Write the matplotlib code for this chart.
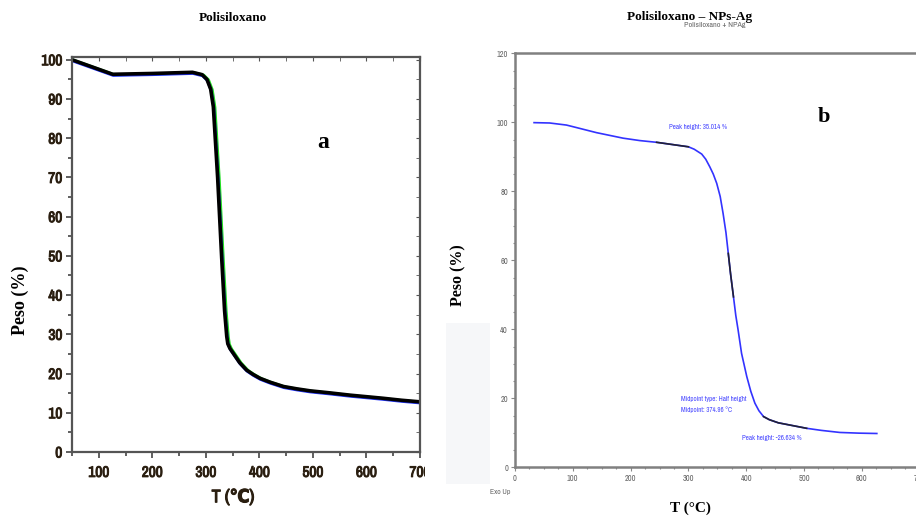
import matplotlib
matplotlib.use("Agg")
import matplotlib.pyplot as plt
import matplotlib.transforms as mtransforms
import matplotlib.patheffects as pe
from matplotlib.ticker import MultipleLocator
from matplotlib.patches import Rectangle
from matplotlib.font_manager import fontManager

# --- data ---------------------------------------------------------------
# Panel a: Polisiloxano
temp_a = [50, 126, 200, 275, 293, 302, 309, 314, 322, 329.6, 335, 339, 341,
          345, 351, 357, 363, 376, 388, 401, 420, 445, 470, 494.5, 530, 569,
          600, 631, 665, 699]
peso_a = [100, 96.3, 96.5, 96.8, 96.2, 95.0, 92.5, 88, 70, 49.4, 36, 29.5,
          27.6, 26.4, 25.2, 24.0, 22.8, 20.9, 19.8, 18.8, 17.8, 16.7, 16.1,
          15.6, 15.1, 14.5, 14.1, 13.7, 13.2, 12.8]

# Panel b: Polisiloxano + NPs-Ag
temp_b = [33, 60, 89, 101, 141, 187, 216, 245, 300, 310, 323, 330, 337, 343,
          349, 355, 360, 365, 369, 373, 378, 382, 386, 392, 401, 408, 415,
          422, 430, 440, 455.5, 480, 504.6, 530, 562, 595, 626]
peso_b = [99.9, 99.8, 99.2, 98.7, 97.0, 95.4, 94.7, 94.2, 92.9, 92.2, 90.8,
          89.3, 87.1, 85.0, 82.3, 78.5, 73.6, 68.0, 62.0, 56.0, 49.4, 44.0,
          39.8, 33.0, 26.3, 22.0, 18.6, 16.4, 14.7, 13.8, 12.9, 12.1, 11.3,
          10.7, 10.1, 9.9, 9.8]

ticks_a_x = [100, 200, 300, 400, 500, 600, 700]
ticks_a_y = [0, 10, 20, 30, 40, 50, 60, 70, 80, 90, 100]
ticks_b_x = [0, 100, 200, 300, 400, 500, 600, 700]
ticks_b_y = [0, 20, 40, 60, 80, 100, 120]

W, H = 916, 516
fig = plt.figure(figsize=(W / 100, H / 100), dpi=100)
fig.patch.set_facecolor("white")

# prefer a narrow sans face for the instrument-style labels
names = {f.name for f in fontManager.ttflist}
narrow_names = sorted(n for n in names if "Narrow" in n or "Condensed" in n)
narrow = narrow_names[0] if narrow_names else "DejaVu Sans"
serif = "Liberation Serif"
NARROW = [narrow, "DejaVu Sans"]
LABEL_A = "#2a1e10"


def heavy(color, w=0.7):
    return [pe.withStroke(linewidth=w, foreground=color)]


def px_axes(x0, y0, x1, y1):
    """Axes placed by pixel box (left, top, right, bottom)."""
    return fig.add_axes([x0 / W, 1 - y1 / H, (x1 - x0) / W, (y1 - y0) / H])


# ---------------- panel a ----------------
ax1 = px_axes(72, 57, 420, 452)
ax1.set_xlim(50, 700)
ax1.set_ylim(0, 100.7)
shift = mtransforms.ScaledTranslation(1.5 / 100, -0.5 / 100, fig.dpi_scale_trans)
ax1.plot(temp_a, peso_a, color="#22dd22", lw=2.2, transform=ax1.transData + shift)
shift2 = mtransforms.ScaledTranslation(0.5 / 100, -1.2 / 100, fig.dpi_scale_trans)
ax1.plot(temp_a, peso_a, color="#2233ff", lw=2.0, transform=ax1.transData + shift2)
ax1.plot(temp_a, peso_a, color="black", lw=2.6, solid_joinstyle="round")

ax1.set_xticks(ticks_a_x)
ax1.set_yticks(ticks_a_y)
ax1.xaxis.set_minor_locator(MultipleLocator(50))
ax1.yaxis.set_minor_locator(MultipleLocator(5))
ax1.tick_params(axis="both", which="both", direction="out", color="#444444", width=1.2)
ax1.tick_params(which="major", length=4)
ax1.tick_params(which="minor", length=3)
ax1.tick_params(axis="x", labelsize=11, pad=6, labelcolor=LABEL_A)
ax1.tick_params(axis="y", labelsize=11, pad=3, labelcolor=LABEL_A)
for lab in ax1.get_xticklabels() + ax1.get_yticklabels():
    lab.set_fontfamily(NARROW)
    lab.set_fontstretch("condensed")
    lab.set_fontweight("bold")
    lab.set_path_effects(heavy(LABEL_A))
for sp in ax1.spines.values():
    sp.set_color("#555555")
    sp.set_linewidth(1.6)

# inward ticks on top and right edges
top1 = ax1.secondary_xaxis("top")
top1.set_xticks(ticks_a_x)
top1.xaxis.set_minor_locator(MultipleLocator(50))
top1.tick_params(which="both", direction="in", length=3, color="#555555",
                 labeltop=False)
top1.spines["top"].set_visible(False)
right1 = ax1.secondary_yaxis("right")
right1.set_yticks(ticks_a_y)
right1.yaxis.set_minor_locator(MultipleLocator(5))
right1.tick_params(which="both", direction="in", length=3, color="#555555",
                   labelright=False)
right1.spines["right"].set_visible(False)

fig.canvas.draw()
clip = mtransforms.Bbox.from_extents(0, 0, 425, H)
for lab in ax1.get_xticklabels():
    lab.set_clip_box(clip)
    lab.set_clip_on(True)

ax1.text(519, 78.8, "a", fontsize=17, fontweight="bold", family=serif,
         ha="center", va="center")

fig.text(233 / W, 1 - 18 / H, "Polisiloxano", fontsize=9.5, fontweight="bold",
         family=serif, ha="center", va="center")
fig.text(20 / W, 1 - 300 / H, "Peso (%)", fontsize=13, fontweight="bold",
         family=serif, rotation=90, ha="center", va="center")
fig.text(233 / W, 1 - 497 / H, "T (\u2103)", fontsize=13, fontweight="bold",
         family=NARROW, fontstretch="condensed", ha="center", va="center",
         color=LABEL_A, path_effects=heavy(LABEL_A, 0.8))

# ---------------- panel b ----------------
fig.patches.append(Rectangle((446 / W, 1 - 484 / H), 44 / W, 161 / H,
                             transform=fig.transFigure, facecolor="#f6f7f9",
                             edgecolor="none", zorder=0))

ax2 = px_axes(515, 53.3, 919.6, 467.3)
ax2.set_xlim(0, 700)
ax2.set_ylim(0, 120)
ax2.set_facecolor("none")
ax2.plot(temp_b, peso_b, color="#3333ff", lw=1.2)
# darker overlay segments of the analysis software
for lo, hi in [(245, 305), (369, 380), (430, 505)]:
    sel = [(t, p) for t, p in zip(temp_b, peso_b) if lo <= t <= hi]
    ax2.plot([s[0] for s in sel], [s[1] for s in sel], color="#222233", lw=1.2)

ax2.set_xticks(ticks_b_x)
ax2.set_yticks(ticks_b_y)
ax2.xaxis.set_minor_locator(MultipleLocator(25))
ax2.yaxis.set_minor_locator(MultipleLocator(5))
ax2.tick_params(which="both", direction="out", color="#888888", width=0.8,
                labelsize=6, labelcolor="#666666", pad=2)
ax2.tick_params(which="major", length=3)
ax2.tick_params(which="minor", length=1.5)
for lab in ax2.get_xticklabels() + ax2.get_yticklabels():
    lab.set_fontfamily(NARROW)
    lab.set_fontstretch("condensed")
ax2.spines["right"].set_visible(False)
for k in ("left", "top", "bottom"):
    ax2.spines[k].set_color("#808080")
    ax2.spines[k].set_linewidth(1.8)

ann = dict(color="#4444ff", fontsize=5.0, family=NARROW, fontstretch="condensed",
           va="center")
ax2.text(266, 98.7, "Peak height: 35.014 %", **ann)
ax2.text(287, 19.7, "Midpoint type: Half height", **ann)
ax2.text(287, 16.6, "Midpoint: 374.96 \u00b0C", **ann)
ax2.text(392, 8.6, "Peak height: -26.634 %", **ann)

ax2.text(535, 101.5, "b", fontsize=16, fontweight="bold", family=serif,
         ha="center", va="center")

fig.text(500 / W, 1 - 492 / H, "Exo Up", fontsize=5.5, color="#666666",
         family=NARROW, fontstretch="condensed", ha="center", va="center")
fig.text(690 / W, 1 - 17 / H, "Polisiloxano \u2013 NPs-Ag", fontsize=9.5,
         fontweight="bold", family=serif, ha="center", va="center")
fig.text(715 / W, 1 - 25 / H, "Polisiloxano + NPAg", fontsize=5.8,
         color="#666666", family=NARROW, fontstretch="condensed",
         ha="center", va="center")
fig.text(458 / W, 1 - 275 / H, "Peso (%)", fontsize=11.5, fontweight="bold",
         family=serif, rotation=90, ha="center", va="center")
fig.text(690 / W, 1 - 508 / H, "T (\u00b0C)", fontsize=11, fontweight="bold",
         family=serif, ha="center", va="center")

fig.savefig("out.png", dpi=100)
